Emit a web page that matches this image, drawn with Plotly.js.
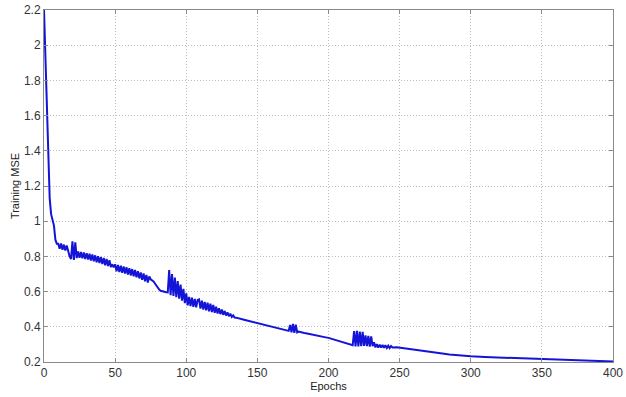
<!DOCTYPE html>
<html>
<head>
<meta charset="utf-8">
<script src="https://cdn.plot.ly/plotly-3.0.1.min.js"></script>
<style>
  html, body { margin: 0; padding: 0; background: #fff; }
  #chart { width: 626px; height: 397px; }
</style>
</head>
<body>
<div id="chart"></div>
<script>
// Epoch numbers and training MSE values
const epochs = [
  0,1,2,3,4,5,6,7,8,9,
  10,11,12,13,14,15,16,17,18,19,
  20,21,22,23,24,25,26,27,28,29,
  30,31,32,33,34,35,36,37,38,39,
  40,41,42,43,44,45,46,47,48,49,
  50,51,52,53,54,55,56,57,58,59,
  60,61,62,63,64,65,66,67,68,69,
  70,71,72,73,74,75,76,77,78,79,
  80,81,82,83,84,85,86,87,88,89,
  90,91,92,93,94,95,96,97,98,99,
  100,101,102,103,104,105,106,107,108,109,
  110,111,112,113,114,115,116,117,118,119,
  120,121,122,123,124,125,126,127,128,129,
  130,131,132,133,134,135,137,140,142,145,
  148,150,153,155,158,160,163,165,168,170,
  172,173,174,175,176,177,178,179,180,183,
  185,188,190,193,195,198,200,203,205,208,
  210,213,215,217,218,219,220,221,222,223,
  224,225,226,227,228,229,230,231,232,233,
  234,235,236,237,238,239,240,241,242,243,
  244,245,248,250,255,260,265,270,275,280,
  285,290,295,300,310,320,330,340,350,360,
  370,380,390,400
];
const mse = [
  2.20,1.95,1.68,1.40,1.13,1.04,1.00,0.975,0.895,0.872,
  0.872,0.843,0.874,0.838,0.867,0.833,0.862,0.828,0.800,0.785,
  0.885,0.780,0.880,0.790,0.828,0.792,0.825,0.789,0.822,0.785,
  0.818,0.782,0.815,0.777,0.811,0.772,0.806,0.767,0.801,0.762,
  0.796,0.757,0.791,0.750,0.785,0.745,0.778,0.740,0.755,0.738,
  0.755,0.715,0.751,0.711,0.747,0.707,0.743,0.702,0.738,0.697,
  0.733,0.692,0.728,0.687,0.723,0.681,0.716,0.675,0.709,0.667,
  0.703,0.659,0.695,0.652,0.686,0.670,0.665,0.658,0.646,0.632,
  0.620,0.611,0.605,0.602,0.600,0.598,0.596,0.595,0.723,0.580,
  0.700,0.575,0.680,0.568,0.660,0.560,0.640,0.548,0.615,0.535,
  0.590,0.522,0.570,0.518,0.565,0.513,0.558,0.510,0.553,0.556,
  0.503,0.548,0.498,0.542,0.493,0.537,0.488,0.531,0.484,0.524,
  0.480,0.514,0.476,0.505,0.472,0.498,0.468,0.490,0.464,0.482,
  0.460,0.474,0.456,0.465,0.453,0.452,0.449,0.441,0.437,0.431,
  0.425,0.421,0.416,0.412,0.406,0.402,0.396,0.391,0.384,0.380,
  0.377,0.410,0.368,0.416,0.366,0.412,0.368,0.373,0.370,0.365,
  0.362,0.356,0.352,0.347,0.344,0.340,0.337,0.330,0.325,0.318,
  0.312,0.305,0.300,0.295,0.376,0.288,0.377,0.288,0.373,0.290,
  0.371,0.292,0.351,0.290,0.349,0.288,0.346,0.290,0.312,0.283,
  0.301,0.282,0.299,0.282,0.297,0.281,0.295,0.280,0.293,0.279,
  0.291,0.283,0.284,0.282,0.275,0.268,0.263,0.260,0.255,0.248,
  0.242,0.238,0.235,0.232,0.228,0.225,0.222,0.218,0.215,0.212,
  0.210,0.207,0.205,0.203
];
const xTicks = [0,50,100,150,200,250,300,350,400];
const yTicks = [0.2,0.4,0.6,0.8,1,1.2,1.4,1.6,1.8,2,2.2];

const trace = {
  x: epochs,
  y: mse,
  type: 'scatter',
  mode: 'lines',
  line: { color: '#1414d8', width: 2 },
  hoverinfo: 'skip'
};

const axisCommon = {
  showline: true,
  linecolor: '#8a8a8a',
  linewidth: 1,
  mirror: 'ticks',
  ticks: 'inside',
  ticklen: 4,
  tickcolor: '#8a8a8a',
  showgrid: true,
  gridcolor: '#bdbdbd',
  griddash: '1px,2px',
  gridwidth: 1,
  zeroline: false,
  tickfont: { family: 'Liberation Sans, Arial, sans-serif', size: 12, color: '#333' }
};

const layout = {
  width: 626,
  height: 397,
  margin: { l: 44, r: 13, t: 10, b: 35 },
  paper_bgcolor: '#fff',
  plot_bgcolor: '#fff',
  showlegend: false,
  xaxis: Object.assign({}, axisCommon, {
    range: [0, 400],
    tickvals: xTicks,
    ticktext: xTicks.map(String),
    title: { text: 'Epochs', standoff: 0,
      font: { family: 'Liberation Sans, Arial, sans-serif', size: 11, color: '#222' } }
  }),
  yaxis: Object.assign({}, axisCommon, {
    range: [0.2, 2.2],
    tickvals: yTicks,
    ticktext: yTicks.map(String),
    ticklabelstandoff: 0,
    title: { text: 'Training MSE', standoff: 2,
      font: { family: 'Liberation Sans, Arial, sans-serif', size: 11, color: '#222' } }
  })
};

Plotly.newPlot('chart', [trace], layout, { displayModeBar: false, staticPlot: true });
</script>
</body>
</html>
